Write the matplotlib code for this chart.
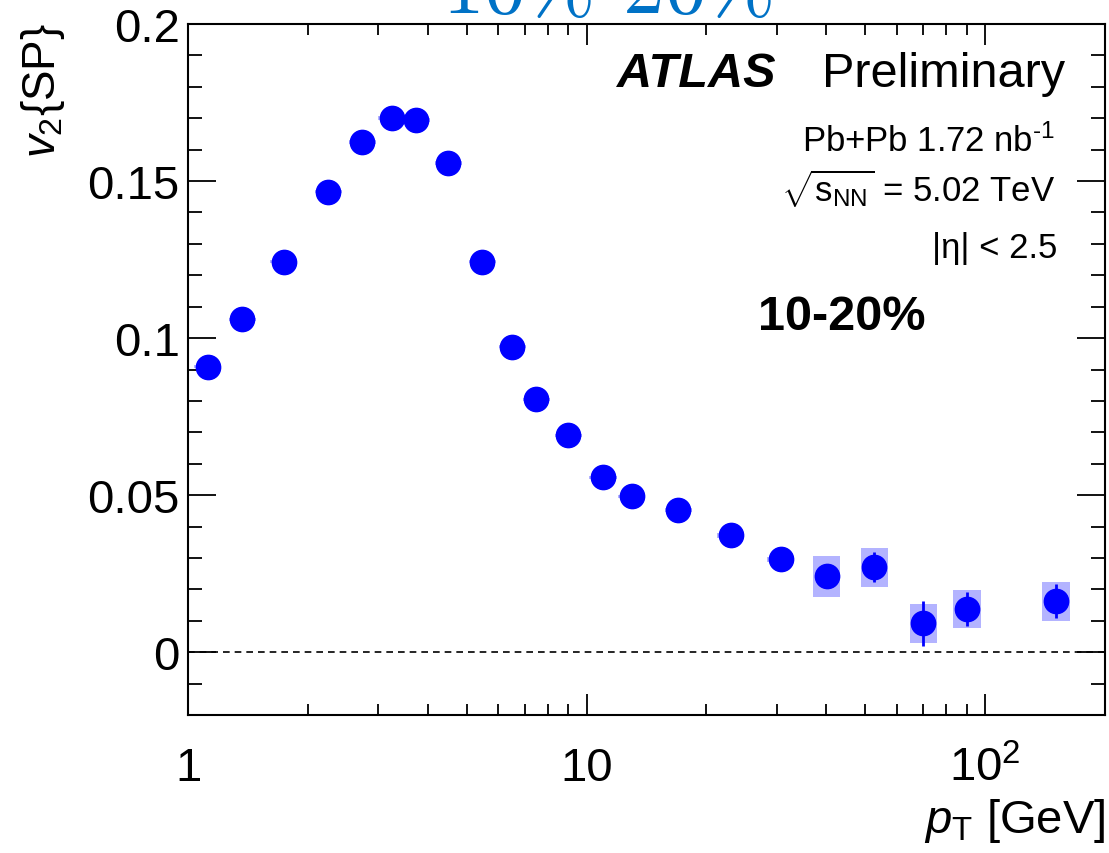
import matplotlib
matplotlib.use("Agg")
import matplotlib.pyplot as plt
from matplotlib.patches import Rectangle
from matplotlib.ticker import FixedLocator, NullFormatter, MultipleLocator

plt.rcParams["font.family"] = ["Liberation Sans", "DejaVu Sans"]
plt.rcParams["mathtext.fontset"] = "custom"
plt.rcParams["mathtext.rm"] = "Liberation Sans"
plt.rcParams["mathtext.it"] = "Liberation Sans:italic"
plt.rcParams["mathtext.bf"] = "Liberation Sans:bold"

# v2{SP} vs pT, 10-20% centrality
pt = [1.12, 1.37, 1.74, 2.25, 2.74, 3.25, 3.74, 4.5, 5.48, 6.52, 7.49,
      9.0, 11.0, 13.0, 17.0, 23.0, 30.7, 40.1, 52.7, 69.9, 90.1, 150.7]
v2 = [0.0909, 0.1060, 0.1243, 0.1466, 0.1625, 0.1701, 0.1695, 0.1558,
      0.1243, 0.0973, 0.0805, 0.0690, 0.0557, 0.0496, 0.0452, 0.0372,
      0.0296, 0.0242, 0.0271, 0.0092, 0.0137, 0.0162]
stat = [0.0003, 0.0003, 0.0003, 0.0003, 0.0003, 0.0003, 0.0003, 0.0003,
        0.0003, 0.0003, 0.0004, 0.0005, 0.0006, 0.0008, 0.0010, 0.0013,
        0.0020, 0.0035, 0.0049, 0.0072, 0.0054, 0.0054]
syst = [0.0004, 0.0004, 0.0005, 0.0005, 0.0006, 0.0006, 0.0006, 0.0006,
        0.0005, 0.0005, 0.0005, 0.0005, 0.0005, 0.0006, 0.0006, 0.0007,
        0.0008, 0.0065, 0.0062, 0.0062, 0.0060, 0.0062]
box_half = 10 ** 0.034  # half width of the syst. boxes (log scale factor)

W, H = 1109, 854
fig = plt.figure(figsize=(W / 100, H / 100), dpi=100)
ax = fig.add_axes([188 / W, 1 - 716 / H, (1105 - 188) / W, (716 - 25) / H])

ax.set_xscale("log")
ax.set_xlim(1, 200)
ax.set_ylim(-0.02, 0.2)

ax.axhline(0, color="black", lw=1.2, ls=(0, (4, 3)), zorder=1)

for x, y, s in zip(pt, v2, syst):
    ax.add_patch(Rectangle((x / box_half, y - s), x * box_half - x / box_half, 2 * s,
                           facecolor="#b3b3ff", edgecolor="none", zorder=2))
ax.errorbar(pt, v2, yerr=stat, fmt="o", color="#0000ff", ms=17.5,
            elinewidth=2, capsize=0, zorder=3)

ax.xaxis.set_major_locator(FixedLocator([1, 10, 100]))
ax.set_xticklabels(["1", "10", r"$10^2$"])
ax.xaxis.set_minor_locator(FixedLocator([2, 3, 4, 5, 6, 7, 8, 9,
                                         20, 30, 40, 50, 60, 70, 80, 90, 200]))
ax.xaxis.set_minor_formatter(NullFormatter())
ax.yaxis.set_major_locator(MultipleLocator(0.05))
ax.yaxis.set_minor_locator(MultipleLocator(0.01))
ax.set_yticks([0, 0.05, 0.1, 0.15, 0.2])
ax.set_yticklabels(["0", "0.05", "0.1", "0.15", "0.2"])

ax.tick_params(axis="both", which="both", direction="in", top=True, right=True,
               labelsize=34, width=1.3)
ax.tick_params(axis="x", which="major", length=15, pad=47)
ax.tick_params(axis="x", which="minor", length=8)
ax.tick_params(axis="y", which="major", length=20, pad=6)
ax.tick_params(axis="y", which="minor", length=10)
for lab in ax.get_xticklabels():
    lab.set_verticalalignment("baseline")
for sp in ax.spines.values():
    sp.set_linewidth(1.5)

# axis titles
fig.text(43 / W, 1 - 23 / H, r"$v_2${SP}", rotation=90, ha="center", va="top",
         fontsize=33)
fig.text(1105 / W, 1 - 833 / H, r"$p_{\rm T}$ [GeV]", ha="right", va="baseline",
         fontsize=34)

# labels
fig.text(617 / W, 1 - 87 / H, "ATLAS", fontsize=35, fontweight="bold",
         fontstyle="italic", va="baseline")
fig.text(1065 / W, 1 - 87 / H, "Preliminary", fontsize=35, ha="right", va="baseline")
fig.text(1055 / W, 1 - 152 / H, "Pb+Pb 1.72 nb$^{\\mathregular{\u2010}1}$", fontsize=25,
         ha="right", va="baseline")
fig.text(1055 / W, 1 - 202 / H, r"$\sqrt{\mathregular{s}_{\rm NN}}$ = 5.02 TeV",
         fontsize=25, ha="right", va="baseline")
fig.text(1057 / W, 1 - 258 / H, "|\u03b7| < 2.5", fontsize=25, ha="right",
         va="baseline")
fig.text(758 / W, 1 - 330 / H, "10-20%", fontsize=35, fontweight="bold",
         va="baseline")

# clipped title at the top
fig.text(607 / W, 1 - 13 / H, r"$10\%$-$20\%$", fontsize=60, color="#0072c6",
         ha="center", va="baseline", math_fontfamily="cm")

fig.savefig("out.png", dpi=100)
